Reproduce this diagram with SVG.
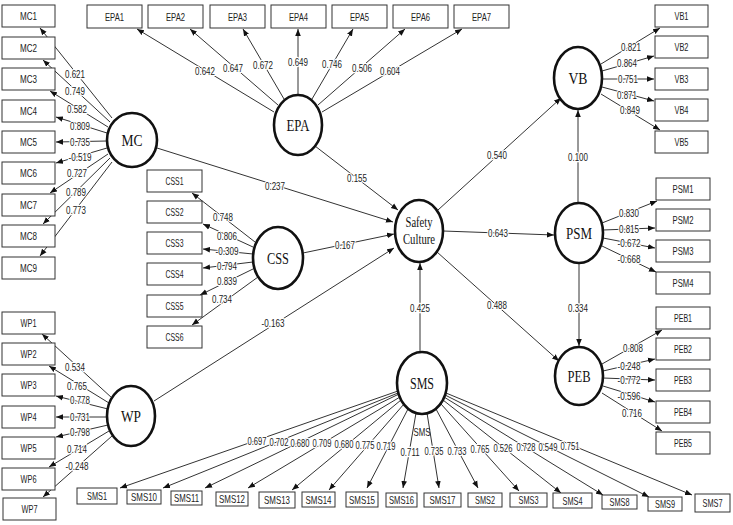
<svg xmlns="http://www.w3.org/2000/svg" width="733" height="525" viewBox="0 0 733 525">
<style>
.bg{fill:#fff}
.c{stroke:#333;stroke-width:1;fill:none;marker-end:url(#ah)}
.box{fill:#fff;stroke:#333;stroke-width:1}
.lv{fill:#fff;stroke:#111;stroke-width:2.6}
.bt{font-family:"Liberation Sans",sans-serif;font-size:10.5px;text-anchor:middle;dominant-baseline:central;fill:#222}
.lt{font-family:"Liberation Serif",serif;font-size:16px;text-anchor:middle;dominant-baseline:central;fill:#111}
.st{font-family:"Liberation Serif",serif;font-size:14px;text-anchor:middle;fill:#111}
.w{font-family:"Liberation Sans",sans-serif;font-size:10.5px;text-anchor:middle;dominant-baseline:central;fill:#222;stroke:#fff;stroke-width:2.5;paint-order:stroke;stroke-linejoin:round}
</style>
<defs>
<marker id="ah" viewBox="0 0 10 10" refX="10" refY="5" markerWidth="7" markerHeight="7" orient="auto" markerUnits="userSpaceOnUse">
<path d="M0,1 L10,5 L0,9 z" fill="#111"/>
</marker>
</defs>
<rect class="bg" x="0" y="0" width="733" height="525"/>
<g id="connectors">
<!-- MC -->
<line class="c" x1="112" y1="118" x2="40" y2="28"/>
<line class="c" x1="110" y1="122" x2="43" y2="60"/>
<line class="c" x1="108" y1="127" x2="50" y2="91"/>
<line class="c" x1="107" y1="133" x2="56" y2="117"/>
<line class="c" x1="107" y1="141" x2="56" y2="142"/>
<line class="c" x1="107" y1="148" x2="56" y2="163"/>
<line class="c" x1="108" y1="154" x2="50" y2="193"/>
<line class="c" x1="110" y1="158" x2="43" y2="224"/>
<line class="c" x1="112" y1="162" x2="40" y2="256"/>
<text class="w" x="75" y="74" textLength="20" lengthAdjust="spacingAndGlyphs">0.621</text>
<text class="w" x="75" y="91" textLength="20" lengthAdjust="spacingAndGlyphs">0.749</text>
<text class="w" x="77" y="109" textLength="20" lengthAdjust="spacingAndGlyphs">0.582</text>
<text class="w" x="80" y="126" textLength="20" lengthAdjust="spacingAndGlyphs">0.809</text>
<text class="w" x="80" y="142" textLength="20" lengthAdjust="spacingAndGlyphs">0.735</text>
<text class="w" x="80" y="157" textLength="23" lengthAdjust="spacingAndGlyphs">-0.519</text>
<text class="w" x="77" y="173" textLength="20" lengthAdjust="spacingAndGlyphs">0.727</text>
<text class="w" x="76" y="192" textLength="20" lengthAdjust="spacingAndGlyphs">0.789</text>
<text class="w" x="76" y="210" textLength="20" lengthAdjust="spacingAndGlyphs">0.773</text>
<!-- EPA -->
<line class="c" x1="274" y1="112" x2="137" y2="29"/>
<line class="c" x1="278" y1="105" x2="190" y2="29"/>
<line class="c" x1="284" y1="99" x2="243" y2="29"/>
<line class="c" x1="298" y1="95" x2="298" y2="29"/>
<line class="c" x1="312" y1="99" x2="353" y2="29"/>
<line class="c" x1="318" y1="105" x2="405" y2="29"/>
<line class="c" x1="322" y1="112" x2="462" y2="29"/>
<text class="w" x="205" y="71" textLength="20" lengthAdjust="spacingAndGlyphs">0.642</text>
<text class="w" x="233" y="68" textLength="20" lengthAdjust="spacingAndGlyphs">0.647</text>
<text class="w" x="263" y="65" textLength="20" lengthAdjust="spacingAndGlyphs">0.672</text>
<text class="w" x="298" y="62" textLength="20" lengthAdjust="spacingAndGlyphs">0.649</text>
<text class="w" x="332" y="64" textLength="20" lengthAdjust="spacingAndGlyphs">0.746</text>
<text class="w" x="362" y="68" textLength="20" lengthAdjust="spacingAndGlyphs">0.506</text>
<text class="w" x="390" y="71" textLength="20" lengthAdjust="spacingAndGlyphs">0.604</text>
<!-- CSS -->
<line class="c" x1="255" y1="242" x2="192" y2="193"/>
<line class="c" x1="253" y1="247" x2="203" y2="224"/>
<line class="c" x1="253" y1="254" x2="203" y2="249"/>
<line class="c" x1="253" y1="262" x2="203" y2="268"/>
<line class="c" x1="255" y1="268" x2="200" y2="295"/>
<line class="c" x1="258" y1="277" x2="192" y2="325"/>
<text class="w" x="223" y="217" textLength="20" lengthAdjust="spacingAndGlyphs">0.748</text>
<text class="w" x="227" y="236" textLength="20" lengthAdjust="spacingAndGlyphs">0.806</text>
<text class="w" x="227" y="251" textLength="23" lengthAdjust="spacingAndGlyphs">-0.309</text>
<text class="w" x="227" y="266" textLength="20" lengthAdjust="spacingAndGlyphs">0.794</text>
<text class="w" x="227" y="281" textLength="20" lengthAdjust="spacingAndGlyphs">0.839</text>
<text class="w" x="222" y="299" textLength="20" lengthAdjust="spacingAndGlyphs">0.734</text>
<!-- WP -->
<line class="c" x1="112" y1="398" x2="42" y2="334"/>
<line class="c" x1="109" y1="403" x2="49" y2="366"/>
<line class="c" x1="108" y1="409" x2="56" y2="396"/>
<line class="c" x1="107" y1="417" x2="56" y2="417"/>
<line class="c" x1="108" y1="425" x2="56" y2="437"/>
<line class="c" x1="109" y1="431" x2="49" y2="467"/>
<line class="c" x1="112" y1="436" x2="43" y2="497"/>
<text class="w" x="75" y="367" textLength="20" lengthAdjust="spacingAndGlyphs">0.534</text>
<text class="w" x="77" y="386" textLength="20" lengthAdjust="spacingAndGlyphs">0.765</text>
<text class="w" x="80" y="400" textLength="20" lengthAdjust="spacingAndGlyphs">0.778</text>
<text class="w" x="80" y="417" textLength="20" lengthAdjust="spacingAndGlyphs">0.731</text>
<text class="w" x="80" y="432" textLength="20" lengthAdjust="spacingAndGlyphs">0.798</text>
<text class="w" x="77" y="449" textLength="20" lengthAdjust="spacingAndGlyphs">0.714</text>
<text class="w" x="77" y="466" textLength="23" lengthAdjust="spacingAndGlyphs">-0.248</text>
<!-- VB -->
<line class="c" x1="601" y1="64" x2="660" y2="28"/>
<line class="c" x1="602" y1="71" x2="654" y2="56"/>
<line class="c" x1="602" y1="79" x2="654" y2="79"/>
<line class="c" x1="602" y1="87" x2="654" y2="101"/>
<line class="c" x1="601" y1="94" x2="660" y2="130"/>
<text class="w" x="631" y="47" textLength="20" lengthAdjust="spacingAndGlyphs">0.821</text>
<text class="w" x="627" y="63" textLength="20" lengthAdjust="spacingAndGlyphs">0.864</text>
<text class="w" x="628" y="79" textLength="20" lengthAdjust="spacingAndGlyphs">0.751</text>
<text class="w" x="627" y="95" textLength="20" lengthAdjust="spacingAndGlyphs">0.871</text>
<text class="w" x="630" y="110" textLength="20" lengthAdjust="spacingAndGlyphs">0.849</text>
<!-- PSM -->
<line class="c" x1="602" y1="223" x2="657" y2="201"/>
<line class="c" x1="603" y1="230" x2="655" y2="228"/>
<line class="c" x1="603" y1="238" x2="655" y2="248"/>
<line class="c" x1="602" y1="246" x2="656" y2="272"/>
<text class="w" x="629" y="213" textLength="20" lengthAdjust="spacingAndGlyphs">0.830</text>
<text class="w" x="629" y="229" textLength="20" lengthAdjust="spacingAndGlyphs">0.815</text>
<text class="w" x="629" y="243" textLength="23" lengthAdjust="spacingAndGlyphs">-0.672</text>
<text class="w" x="629" y="259" textLength="23" lengthAdjust="spacingAndGlyphs">-0.668</text>
<!-- PEB -->
<line class="c" x1="602" y1="364" x2="662" y2="330"/>
<line class="c" x1="603" y1="371" x2="655" y2="359"/>
<line class="c" x1="603" y1="378" x2="655" y2="380"/>
<line class="c" x1="603" y1="386" x2="655" y2="402"/>
<line class="c" x1="602" y1="393" x2="662" y2="431"/>
<text class="w" x="633" y="348" textLength="20" lengthAdjust="spacingAndGlyphs">0.808</text>
<text class="w" x="629" y="366" textLength="23" lengthAdjust="spacingAndGlyphs">-0.248</text>
<text class="w" x="629" y="380" textLength="23" lengthAdjust="spacingAndGlyphs">-0.772</text>
<text class="w" x="629" y="396" textLength="23" lengthAdjust="spacingAndGlyphs">-0.596</text>
<text class="w" x="632" y="413" textLength="20" lengthAdjust="spacingAndGlyphs">0.716</text>
<!-- SMS -->
<line class="c" x1="398" y1="391" x2="120" y2="488"/>
<line class="c" x1="398" y1="393" x2="163" y2="488"/>
<line class="c" x1="399" y1="394" x2="205" y2="488"/>
<line class="c" x1="400" y1="397" x2="248" y2="488"/>
<line class="c" x1="401" y1="400" x2="292" y2="490"/>
<line class="c" x1="404" y1="404" x2="329" y2="490"/>
<line class="c" x1="408" y1="409" x2="367" y2="488"/>
<line class="c" x1="416" y1="413" x2="403" y2="488"/>
<line class="c" x1="427" y1="413" x2="439" y2="488"/>
<line class="c" x1="436" y1="409" x2="478" y2="488"/>
<line class="c" x1="441" y1="404" x2="519" y2="491"/>
<line class="c" x1="443" y1="400" x2="561" y2="493"/>
<line class="c" x1="444" y1="397" x2="603" y2="495"/>
<line class="c" x1="445" y1="395" x2="649" y2="497"/>
<line class="c" x1="446" y1="393" x2="692" y2="495"/>
<text class="w" x="257" y="441" textLength="19" lengthAdjust="spacingAndGlyphs">0.697</text>
<text class="w" x="279" y="442" textLength="19" lengthAdjust="spacingAndGlyphs">0.702</text>
<text class="w" x="300" y="443" textLength="19" lengthAdjust="spacingAndGlyphs">0.680</text>
<text class="w" x="322" y="443" textLength="19" lengthAdjust="spacingAndGlyphs">0.709</text>
<text class="w" x="344" y="444" textLength="19" lengthAdjust="spacingAndGlyphs">0.680</text>
<text class="w" x="365" y="445" textLength="19" lengthAdjust="spacingAndGlyphs">0.775</text>
<text class="w" x="386" y="446" textLength="19" lengthAdjust="spacingAndGlyphs">0.719</text>
<text class="w" x="410" y="452" textLength="19" lengthAdjust="spacingAndGlyphs">0.711</text>
<text class="w" x="434" y="451" textLength="19" lengthAdjust="spacingAndGlyphs">0.735</text>
<text class="w" x="457" y="451" textLength="19" lengthAdjust="spacingAndGlyphs">0.733</text>
<text class="w" x="480" y="449" textLength="19" lengthAdjust="spacingAndGlyphs">0.765</text>
<text class="w" x="503" y="448" textLength="19" lengthAdjust="spacingAndGlyphs">0.526</text>
<text class="w" x="526" y="447" textLength="19" lengthAdjust="spacingAndGlyphs">0.728</text>
<text class="w" x="548" y="447" textLength="19" lengthAdjust="spacingAndGlyphs">0.549</text>
<text class="w" x="570" y="446" textLength="19" lengthAdjust="spacingAndGlyphs">0.751</text>
<text class="bt" x="422" y="432" textLength="17" lengthAdjust="spacingAndGlyphs">SMS</text>
<!-- structural -->
<line class="c" x1="157" y1="148" x2="393" y2="222"/>
<line class="c" x1="315" y1="146" x2="398" y2="210"/>
<line class="c" x1="303" y1="253" x2="394" y2="234"/>
<line class="c" x1="154" y1="401" x2="394" y2="248"/>
<line class="c" x1="420" y1="352" x2="420" y2="263"/>
<line class="c" x1="438" y1="210" x2="561" y2="98"/>
<line class="c" x1="443" y1="231" x2="554" y2="235"/>
<line class="c" x1="437" y1="252" x2="559" y2="361"/>
<line class="c" x1="578" y1="203" x2="578" y2="110"/>
<line class="c" x1="579" y1="263" x2="579" y2="346"/>
<text class="w" x="275" y="186" textLength="20" lengthAdjust="spacingAndGlyphs">0.237</text>
<text class="w" x="357" y="178" textLength="20" lengthAdjust="spacingAndGlyphs">0.155</text>
<text class="w" x="345" y="245" textLength="20" lengthAdjust="spacingAndGlyphs">0.167</text>
<text class="w" x="273" y="323" textLength="23" lengthAdjust="spacingAndGlyphs">-0.163</text>
<text class="w" x="420" y="308" textLength="20" lengthAdjust="spacingAndGlyphs">0.425</text>
<text class="w" x="497" y="155" textLength="20" lengthAdjust="spacingAndGlyphs">0.540</text>
<text class="w" x="498" y="233" textLength="20" lengthAdjust="spacingAndGlyphs">0.643</text>
<text class="w" x="497" y="305" textLength="20" lengthAdjust="spacingAndGlyphs">0.488</text>
<text class="w" x="578" y="157" textLength="20" lengthAdjust="spacingAndGlyphs">0.100</text>
<text class="w" x="578" y="308" textLength="20" lengthAdjust="spacingAndGlyphs">0.334</text>
</g>
<!-- latent nodes -->
<g id="MC"><ellipse class="lv" cx="132" cy="140" rx="25" ry="27"/><text class="lt" x="132" y="140" textLength="21" lengthAdjust="spacingAndGlyphs">MC</text></g>
<g id="EPA"><ellipse class="lv" cx="298" cy="125" rx="24" ry="30"/><text class="lt" x="298" y="125" textLength="23" lengthAdjust="spacingAndGlyphs">EPA</text></g>
<g id="CSS"><ellipse class="lv" cx="278" cy="258" rx="25" ry="31"/><text class="lt" x="278" y="258" textLength="22" lengthAdjust="spacingAndGlyphs">CSS</text></g>
<g id="WP"><ellipse class="lv" cx="131" cy="416" rx="24" ry="30"/><text class="lt" x="131" y="416" textLength="20" lengthAdjust="spacingAndGlyphs">WP</text></g>
<g id="SafetyCulture"><ellipse class="lv" cx="419" cy="231" rx="24" ry="31"/><text class="st" x="419" y="227" textLength="27" lengthAdjust="spacingAndGlyphs">Safety</text><text class="st" x="419" y="244" textLength="32" lengthAdjust="spacingAndGlyphs">Culture</text></g>
<g id="SMS"><ellipse class="lv" cx="422" cy="383" rx="25" ry="31"/><text class="lt" x="422" y="383" textLength="24" lengthAdjust="spacingAndGlyphs">SMS</text></g>
<g id="VB"><ellipse class="lv" cx="578" cy="78" rx="24" ry="31"/><text class="lt" x="578" y="78" textLength="19" lengthAdjust="spacingAndGlyphs">VB</text></g>
<g id="PSM"><ellipse class="lv" cx="579" cy="233" rx="24" ry="30"/><text class="lt" x="579" y="233" textLength="26" lengthAdjust="spacingAndGlyphs">PSM</text></g>
<g id="PEB"><ellipse class="lv" cx="579" cy="376" rx="24" ry="29"/><text class="lt" x="579" y="376" textLength="23" lengthAdjust="spacingAndGlyphs">PEB</text></g>
<!-- MC indicators -->
<g id="MC1"><rect class="box" x="2" y="5" width="53" height="22"/><text class="bt" x="28.5" y="16" textLength="17" lengthAdjust="spacingAndGlyphs">MC1</text></g>
<g id="MC2"><rect class="box" x="2" y="37" width="53" height="22"/><text class="bt" x="28.5" y="48" textLength="17" lengthAdjust="spacingAndGlyphs">MC2</text></g>
<g id="MC3"><rect class="box" x="2" y="68" width="53" height="22"/><text class="bt" x="28.5" y="79" textLength="17" lengthAdjust="spacingAndGlyphs">MC3</text></g>
<g id="MC4"><rect class="box" x="2" y="100" width="53" height="22"/><text class="bt" x="28.5" y="111" textLength="17" lengthAdjust="spacingAndGlyphs">MC4</text></g>
<g id="MC5"><rect class="box" x="2" y="131" width="53" height="22"/><text class="bt" x="28.5" y="142" textLength="17" lengthAdjust="spacingAndGlyphs">MC5</text></g>
<g id="MC6"><rect class="box" x="2" y="162" width="53" height="22"/><text class="bt" x="28.5" y="173" textLength="17" lengthAdjust="spacingAndGlyphs">MC6</text></g>
<g id="MC7"><rect class="box" x="2" y="194" width="53" height="22"/><text class="bt" x="28.5" y="205" textLength="17" lengthAdjust="spacingAndGlyphs">MC7</text></g>
<g id="MC8"><rect class="box" x="2" y="225" width="53" height="22"/><text class="bt" x="28.5" y="236" textLength="17" lengthAdjust="spacingAndGlyphs">MC8</text></g>
<g id="MC9"><rect class="box" x="2" y="257" width="53" height="22"/><text class="bt" x="28.5" y="268" textLength="17" lengthAdjust="spacingAndGlyphs">MC9</text></g>
<!-- EPA indicators -->
<g id="EPA1"><rect class="box" x="87" y="5" width="55" height="23"/><text class="bt" x="114.5" y="16.5" textLength="19" lengthAdjust="spacingAndGlyphs">EPA1</text></g>
<g id="EPA2"><rect class="box" x="148" y="5" width="55" height="23"/><text class="bt" x="175.5" y="16.5" textLength="19" lengthAdjust="spacingAndGlyphs">EPA2</text></g>
<g id="EPA3"><rect class="box" x="210" y="5" width="55" height="23"/><text class="bt" x="237.5" y="16.5" textLength="19" lengthAdjust="spacingAndGlyphs">EPA3</text></g>
<g id="EPA4"><rect class="box" x="271" y="5" width="55" height="23"/><text class="bt" x="298.5" y="16.5" textLength="19" lengthAdjust="spacingAndGlyphs">EPA4</text></g>
<g id="EPA5"><rect class="box" x="332" y="5" width="55" height="23"/><text class="bt" x="359.5" y="16.5" textLength="19" lengthAdjust="spacingAndGlyphs">EPA5</text></g>
<g id="EPA6"><rect class="box" x="393" y="5" width="55" height="23"/><text class="bt" x="420.5" y="16.5" textLength="19" lengthAdjust="spacingAndGlyphs">EPA6</text></g>
<g id="EPA7"><rect class="box" x="454" y="5" width="55" height="23"/><text class="bt" x="481.5" y="16.5" textLength="19" lengthAdjust="spacingAndGlyphs">EPA7</text></g>
<!-- CSS indicators -->
<g id="CSS1"><rect class="box" x="147" y="170" width="55" height="22"/><text class="bt" x="174.5" y="181" textLength="18" lengthAdjust="spacingAndGlyphs">CSS1</text></g>
<g id="CSS2"><rect class="box" x="147" y="201" width="55" height="22"/><text class="bt" x="174.5" y="212" textLength="18" lengthAdjust="spacingAndGlyphs">CSS2</text></g>
<g id="CSS3"><rect class="box" x="147" y="232" width="55" height="22"/><text class="bt" x="174.5" y="243" textLength="18" lengthAdjust="spacingAndGlyphs">CSS3</text></g>
<g id="CSS4"><rect class="box" x="147" y="263" width="55" height="22"/><text class="bt" x="174.5" y="274" textLength="18" lengthAdjust="spacingAndGlyphs">CSS4</text></g>
<g id="CSS5"><rect class="box" x="147" y="295" width="55" height="22"/><text class="bt" x="174.5" y="306" textLength="18" lengthAdjust="spacingAndGlyphs">CSS5</text></g>
<g id="CSS6"><rect class="box" x="147" y="326" width="55" height="22"/><text class="bt" x="174.5" y="337" textLength="18" lengthAdjust="spacingAndGlyphs">CSS6</text></g>
<!-- WP indicators -->
<g id="WP1"><rect class="box" x="2" y="312" width="53" height="22"/><text class="bt" x="28.5" y="323" textLength="16" lengthAdjust="spacingAndGlyphs">WP1</text></g>
<g id="WP2"><rect class="box" x="2" y="343" width="53" height="22"/><text class="bt" x="28.5" y="354" textLength="16" lengthAdjust="spacingAndGlyphs">WP2</text></g>
<g id="WP3"><rect class="box" x="2" y="374" width="53" height="22"/><text class="bt" x="28.5" y="385" textLength="16" lengthAdjust="spacingAndGlyphs">WP3</text></g>
<g id="WP4"><rect class="box" x="2" y="406" width="53" height="22"/><text class="bt" x="28.5" y="417" textLength="16" lengthAdjust="spacingAndGlyphs">WP4</text></g>
<g id="WP5"><rect class="box" x="2" y="437" width="53" height="22"/><text class="bt" x="28.5" y="448" textLength="16" lengthAdjust="spacingAndGlyphs">WP5</text></g>
<g id="WP6"><rect class="box" x="2" y="468" width="53" height="22"/><text class="bt" x="28.5" y="479" textLength="16" lengthAdjust="spacingAndGlyphs">WP6</text></g>
<g id="WP7"><rect class="box" x="3" y="498" width="53" height="22"/><text class="bt" x="29.5" y="509" textLength="16" lengthAdjust="spacingAndGlyphs">WP7</text></g>
<!-- VB indicators -->
<g id="VB1"><rect class="box" x="655" y="5" width="53" height="22"/><text class="bt" x="681.5" y="16" textLength="14" lengthAdjust="spacingAndGlyphs">VB1</text></g>
<g id="VB2"><rect class="box" x="655" y="36" width="53" height="22"/><text class="bt" x="681.5" y="47" textLength="14" lengthAdjust="spacingAndGlyphs">VB2</text></g>
<g id="VB3"><rect class="box" x="655" y="68" width="53" height="22"/><text class="bt" x="681.5" y="79" textLength="14" lengthAdjust="spacingAndGlyphs">VB3</text></g>
<g id="VB4"><rect class="box" x="655" y="99" width="53" height="22"/><text class="bt" x="681.5" y="110" textLength="14" lengthAdjust="spacingAndGlyphs">VB4</text></g>
<g id="VB5"><rect class="box" x="655" y="131" width="53" height="22"/><text class="bt" x="681.5" y="142" textLength="14" lengthAdjust="spacingAndGlyphs">VB5</text></g>
<!-- PSM indicators -->
<g id="PSM1"><rect class="box" x="656" y="178" width="54" height="22"/><text class="bt" x="683" y="189" textLength="21" lengthAdjust="spacingAndGlyphs">PSM1</text></g>
<g id="PSM2"><rect class="box" x="656" y="209" width="54" height="22"/><text class="bt" x="683" y="220" textLength="21" lengthAdjust="spacingAndGlyphs">PSM2</text></g>
<g id="PSM3"><rect class="box" x="656" y="240" width="54" height="22"/><text class="bt" x="683" y="251" textLength="21" lengthAdjust="spacingAndGlyphs">PSM3</text></g>
<g id="PSM4"><rect class="box" x="656" y="272" width="54" height="22"/><text class="bt" x="683" y="283" textLength="21" lengthAdjust="spacingAndGlyphs">PSM4</text></g>
<!-- PEB indicators -->
<g id="PEB1"><rect class="box" x="656" y="307" width="54" height="22"/><text class="bt" x="683" y="318" textLength="18" lengthAdjust="spacingAndGlyphs">PEB1</text></g>
<g id="PEB2"><rect class="box" x="656" y="338" width="54" height="22"/><text class="bt" x="683" y="349" textLength="18" lengthAdjust="spacingAndGlyphs">PEB2</text></g>
<g id="PEB3"><rect class="box" x="656" y="369" width="54" height="22"/><text class="bt" x="683" y="380" textLength="18" lengthAdjust="spacingAndGlyphs">PEB3</text></g>
<g id="PEB4"><rect class="box" x="656" y="401" width="54" height="22"/><text class="bt" x="683" y="412" textLength="18" lengthAdjust="spacingAndGlyphs">PEB4</text></g>
<g id="PEB5"><rect class="box" x="656" y="432" width="54" height="22"/><text class="bt" x="683" y="443" textLength="18" lengthAdjust="spacingAndGlyphs">PEB5</text></g>
<!-- SMS indicators -->
<g id="SMS1"><rect class="box" x="77" y="488" width="40" height="16"/><text class="bt" x="97" y="496" textLength="20" lengthAdjust="spacingAndGlyphs">SMS1</text></g>
<g id="SMS10"><rect class="box" x="127" y="490" width="34" height="14"/><text class="bt" x="144" y="497" textLength="26" lengthAdjust="spacingAndGlyphs">SMS10</text></g>
<g id="SMS11"><rect class="box" x="171" y="491" width="31" height="14"/><text class="bt" x="186.5" y="498" textLength="25" lengthAdjust="spacingAndGlyphs">SMS11</text></g>
<g id="SMS12"><rect class="box" x="216" y="492" width="32" height="14"/><text class="bt" x="232" y="499" textLength="26" lengthAdjust="spacingAndGlyphs">SMS12</text></g>
<g id="SMS13"><rect class="box" x="259" y="492" width="36" height="16"/><text class="bt" x="277" y="500" textLength="26" lengthAdjust="spacingAndGlyphs">SMS13</text></g>
<g id="SMS14"><rect class="box" x="302" y="492" width="33" height="15"/><text class="bt" x="318.5" y="499.5" textLength="26" lengthAdjust="spacingAndGlyphs">SMS14</text></g>
<g id="SMS15"><rect class="box" x="346" y="492" width="32" height="15"/><text class="bt" x="362" y="499.5" textLength="26" lengthAdjust="spacingAndGlyphs">SMS15</text></g>
<g id="SMS16"><rect class="box" x="386" y="493" width="31" height="14"/><text class="bt" x="401.5" y="500" textLength="25" lengthAdjust="spacingAndGlyphs">SMS16</text></g>
<g id="SMS17"><rect class="box" x="424" y="493" width="37" height="14"/><text class="bt" x="442.5" y="500" textLength="26" lengthAdjust="spacingAndGlyphs">SMS17</text></g>
<g id="SMS2"><rect class="box" x="468" y="493" width="34" height="14"/><text class="bt" x="485" y="500" textLength="20" lengthAdjust="spacingAndGlyphs">SMS2</text></g>
<g id="SMS3"><rect class="box" x="510" y="493" width="37" height="14"/><text class="bt" x="528.5" y="500" textLength="20" lengthAdjust="spacingAndGlyphs">SMS3</text></g>
<g id="SMS4"><rect class="box" x="553" y="493" width="39" height="15"/><text class="bt" x="572.5" y="500.5" textLength="20" lengthAdjust="spacingAndGlyphs">SMS4</text></g>
<g id="SMS8"><rect class="box" x="602" y="495" width="35" height="14"/><text class="bt" x="619.5" y="502" textLength="20" lengthAdjust="spacingAndGlyphs">SMS8</text></g>
<g id="SMS9"><rect class="box" x="648" y="497" width="34" height="14"/><text class="bt" x="665" y="504" textLength="20" lengthAdjust="spacingAndGlyphs">SMS9</text></g>
<g id="SMS7"><rect class="box" x="695" y="494" width="35" height="18"/><text class="bt" x="712.5" y="503" textLength="20" lengthAdjust="spacingAndGlyphs">SMS7</text></g>
</svg>
